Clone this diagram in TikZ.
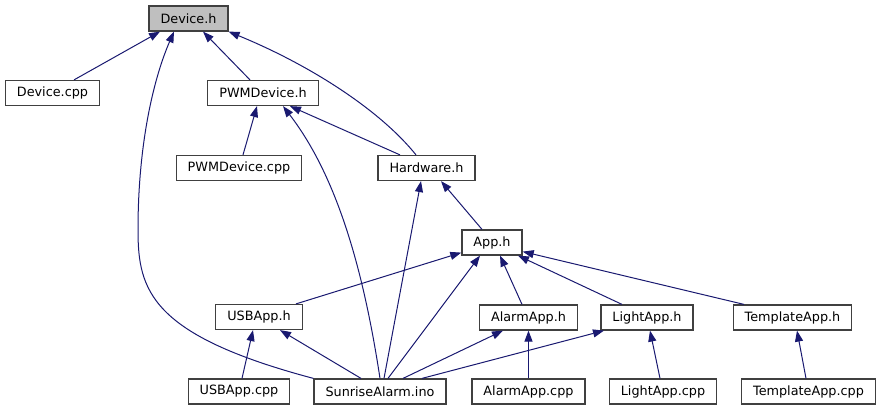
\documentclass[tikz,border=0pt]{standalone}
\usepackage{fontspec}
\setmainfont{DejaVu Sans}
\usetikzlibrary{arrows.meta}

\definecolor{edgeblue}{HTML}{191970}
\definecolor{boxgray}{HTML}{404040}
\definecolor{rootgray}{HTML}{BFBFBF}

\begin{document}
\begin{tikzpicture}[x=1pt,y=-1pt,
    file/.style={draw=boxgray,fill=white,line width=1.2pt,inner xsep=11.5pt,
        inner ysep=0pt,minimum height=25pt,font=\fontsize{12.8}{15}\selectfont},
    dep/.style={edgeblue,line width=1pt,-{Triangle[length=11pt,width=8pt]}}]

\useasboundingbox (0,0) rectangle (881,411);

% Files
\node[file,fill=rootgray] (devh) at (188.5,18.5) {Device.h};
\node[file] (devcpp) at (52.5,93) {Device.cpp};
\node[file] (pwmh) at (263,93) {PWMDevice.h};
\node[file] (pwmcpp) at (239,168) {PWMDevice.cpp};
\node[file] (hw) at (426.5,168) {Hardware.h};
\node[file] (app) at (492,242.5) {App.h};
\node[file] (usbh) at (259,317) {USBApp.h};
\node[file] (alarmh) at (528.5,317.5) {AlarmApp.h};
\node[file] (lighth) at (647,317.5) {LightApp.h};
\node[file] (tmplh) at (792.5,317.5) {TemplateApp.h};
\node[file] (usbcpp) at (239,391.5) {USBApp.cpp};
\node[file] (ino) at (380,391.5) {SunriseAlarm.ino};
\node[file] (alarmcpp) at (528.5,391.5) {AlarmApp.cpp};
\node[file] (lightcpp) at (663,391.5) {LightApp.cpp};
\node[file] (tmplcpp) at (808.5,391.5) {TemplateApp.cpp};

% Includes of Device.h
\draw[dep] ([xshift=21.5pt]devcpp.north) -- ([xshift=-28.5pt]devh.south);
\draw[dep] ([xshift=-13pt]pwmh.north) -- ([xshift=14.5pt]devh.south);
\draw[dep] ([xshift=-10.5pt]hw.north) .. controls (380,110) and (310,65) .. (devh.south east);
\draw[dep] (ino.north west) .. controls (150,335) and (138,290) .. (138,230)
    .. controls (138,140) and (155,75) .. ([xshift=-14.5pt]devh.south);

% Includes of PWMDevice.h
\draw[dep] ([xshift=4pt]pwmcpp.north) -- ([xshift=-6pt]pwmh.south);
\draw[dep] ([xshift=-26.5pt]hw.north) -- ([xshift=27pt]pwmh.south);
\draw[dep] (ino.north) .. controls (365,280) and (340,180) .. ([xshift=20pt]pwmh.south);

% Includes of Hardware.h
\draw[dep] ([xshift=4pt]ino.north) -- ([xshift=-5.5pt]hw.south);
\draw[dep] ([xshift=-10pt]app.north) -- ([xshift=14.5pt]hw.south);

% Includes of App.h
\draw[dep] ([xshift=37pt]usbh.north) -- ([yshift=3pt]app.south west);
\draw[dep] ([xshift=8pt]ino.north) -- ([xshift=-12pt]app.south);
\draw[dep] ([xshift=-6.5pt]alarmh.north) -- ([xshift=8pt]app.south);
\draw[dep] ([xshift=-25pt]lighth.north) -- ([xshift=26pt]app.south);
\draw[dep] ([xshift=-48.5pt]tmplh.north) -- ([yshift=4pt]app.south east);

% Includes of the app headers
\draw[dep] ([xshift=3pt]usbcpp.north) -- ([xshift=-6pt]usbh.south);
\draw[dep] ([xshift=-19pt]ino.north) -- ([xshift=21pt]usbh.south);
\draw[dep] ([xshift=23pt]ino.north) -- ([xshift=-25.5pt]alarmh.south);
\draw[dep] (alarmcpp.north) -- (alarmh.south);
\draw[dep] ([xshift=42pt]ino.north) -- ([xshift=-43pt]lighth.south);
\draw[dep] ([xshift=-3pt]lightcpp.north) -- ([xshift=3pt]lighth.south);
\draw[dep] ([xshift=-2.5pt]tmplcpp.north) -- ([xshift=4.5pt]tmplh.south);

\end{tikzpicture}
\end{document}
